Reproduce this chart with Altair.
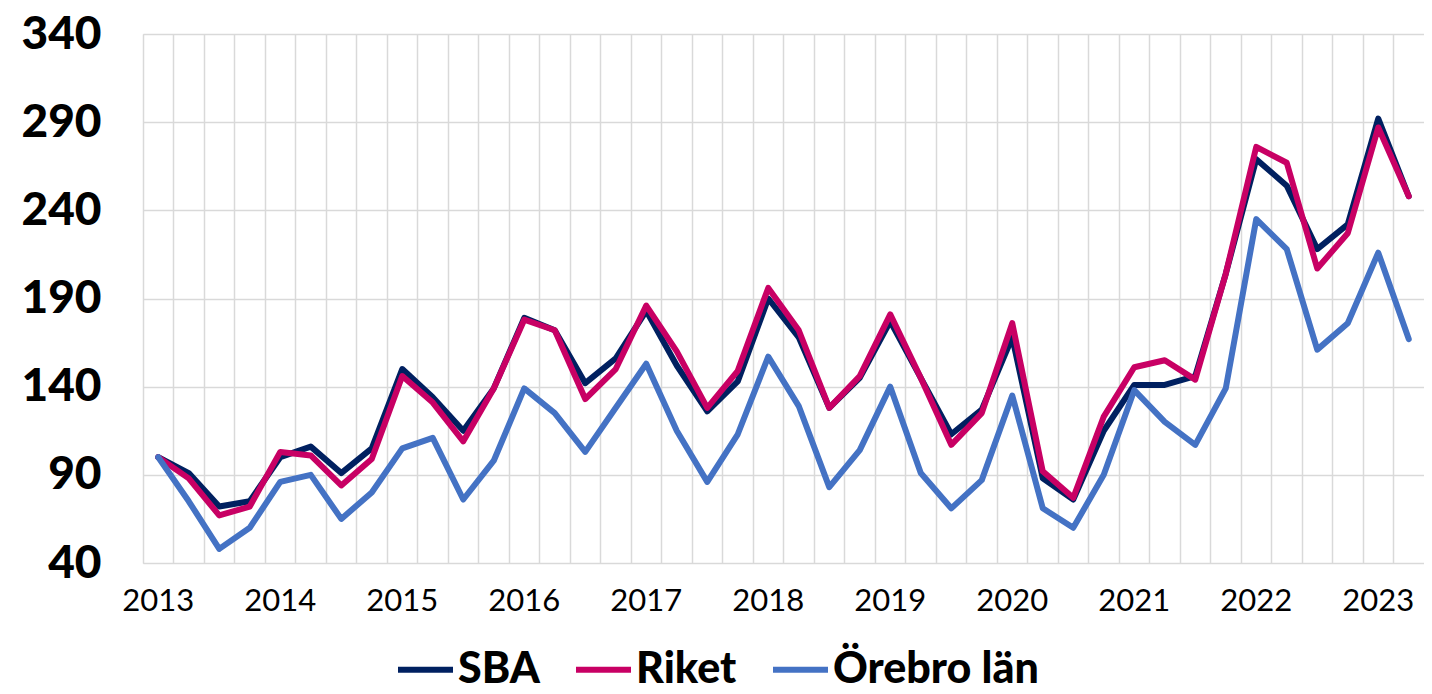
import altair as alt
import pandas as pd

years = list(range(2013, 2024))
quarters = [f"{y}Q{q}" for y in years for q in range(1, 5)][:42]

series_names = ["SBA", "Riket", "Örebro län"]
colors = ["#002060", "#C80064", "#4472C4"]

sba = [100, 91, 72, 75, 100, 106, 91, 105, 150, 134, 115, 139,
       179, 172, 142, 156, 183, 152, 126, 143, 190, 168, 128, 145,
       177, 145, 113, 127, 168, 88, 76, 115, 141, 141, 146, 204,
       269, 254, 218, 232, 292, 248]
riket = [100, 88, 67, 72, 103, 101, 84, 99, 146, 131, 109, 139,
         178, 172, 133, 150, 186, 160, 128, 149, 196, 172, 128, 146,
         181, 145, 107, 125, 176, 92, 77, 123, 151, 155, 144, 204,
         276, 267, 207, 227, 287, 248]
orebro = [100, 75, 48, 60, 86, 90, 65, 80, 105, 111, 76, 98,
          139, 125, 103, 128, 153, 115, 86, 113, 157, 129, 83, 104,
          140, 91, 71, 87, 135, 71, 60, 90, 138, 120, 107, 139,
          235, 218, 161, 176, 216, 167]

y_ticks = [40, 90, 140, 190, 240, 290, 340]

rows = []
for name, vals in zip(series_names, [sba, riket, orebro]):
    for q, v in zip(quarters, vals):
        rows.append({"kvartal": q, "serie": name, "varde": v})
df = pd.DataFrame(rows)

W = 1281
H = 529

x_enc = alt.X(
    "kvartal:O",
    sort=quarters,
    bandPosition=0.5,
    scale=alt.Scale(type="band", paddingInner=0, paddingOuter=0),
    axis=alt.Axis(
        title=None,
        bandPosition=0,
        grid=True,
        gridColor="#D9D9D9",
        gridWidth=1.5,
        ticks=False,
        domain=False,
        labelAngle=0,
        labelOverlap=False,
        labelExpr="slice(datum.value, 4) == 'Q1' ? slice(datum.value, 0, 4) : ''",
        labelFont="Lato",
        labelFontSize=31,
        labelColor="#000000",
        labelPadding=23,
    ),
)
y_enc = alt.Y(
    "varde:Q",
    scale=alt.Scale(domain=[40, 340], nice=False, zero=False),
    axis=alt.Axis(
        title=None,
        values=y_ticks,
        grid=True,
        gridColor="#D9D9D9",
        gridWidth=1.5,
        ticks=False,
        domain=False,
        labelFont="Lato",
        labelFontSize=46,
        labelFontWeight=900,
        labelColor="#000000",
        labelPadding=42,
    ),
)
color_enc = alt.Color(
    "serie:N",
    scale=alt.Scale(domain=series_names, range=colors),
    legend=alt.Legend(
        title=None,
        orient="none",
        legendX=252,
        legendY=605,
        direction="horizontal",
        symbolType="stroke",
        symbolSize=3025,
        symbolStrokeWidth=6,
        labelFont="Lato",
        labelFontSize=43,
        labelFontWeight=900,
        labelColor="#000000",
        labelOffset=2,
        labelLimit=600,
        columnPadding=24,
        padding=0,
    ),
)

base = alt.Chart(df).mark_line(strokeWidth=6, strokeCap="round", strokeJoin="round").encode(
    x=x_enc, y=y_enc, color=color_enc
)

layers = [base.transform_filter(alt.datum.serie == s) for s in series_names]

chart = alt.layer(*layers).properties(
    width=W,
    height=H,
    padding={"left": 135, "top": 26, "right": 0, "bottom": 123},
    autosize=alt.AutoSizeParams(type="none"),
).configure_view(stroke=None).configure(font="Lato")

chart.save("out.html", embed_options={"renderer": "svg", "actions": False})
